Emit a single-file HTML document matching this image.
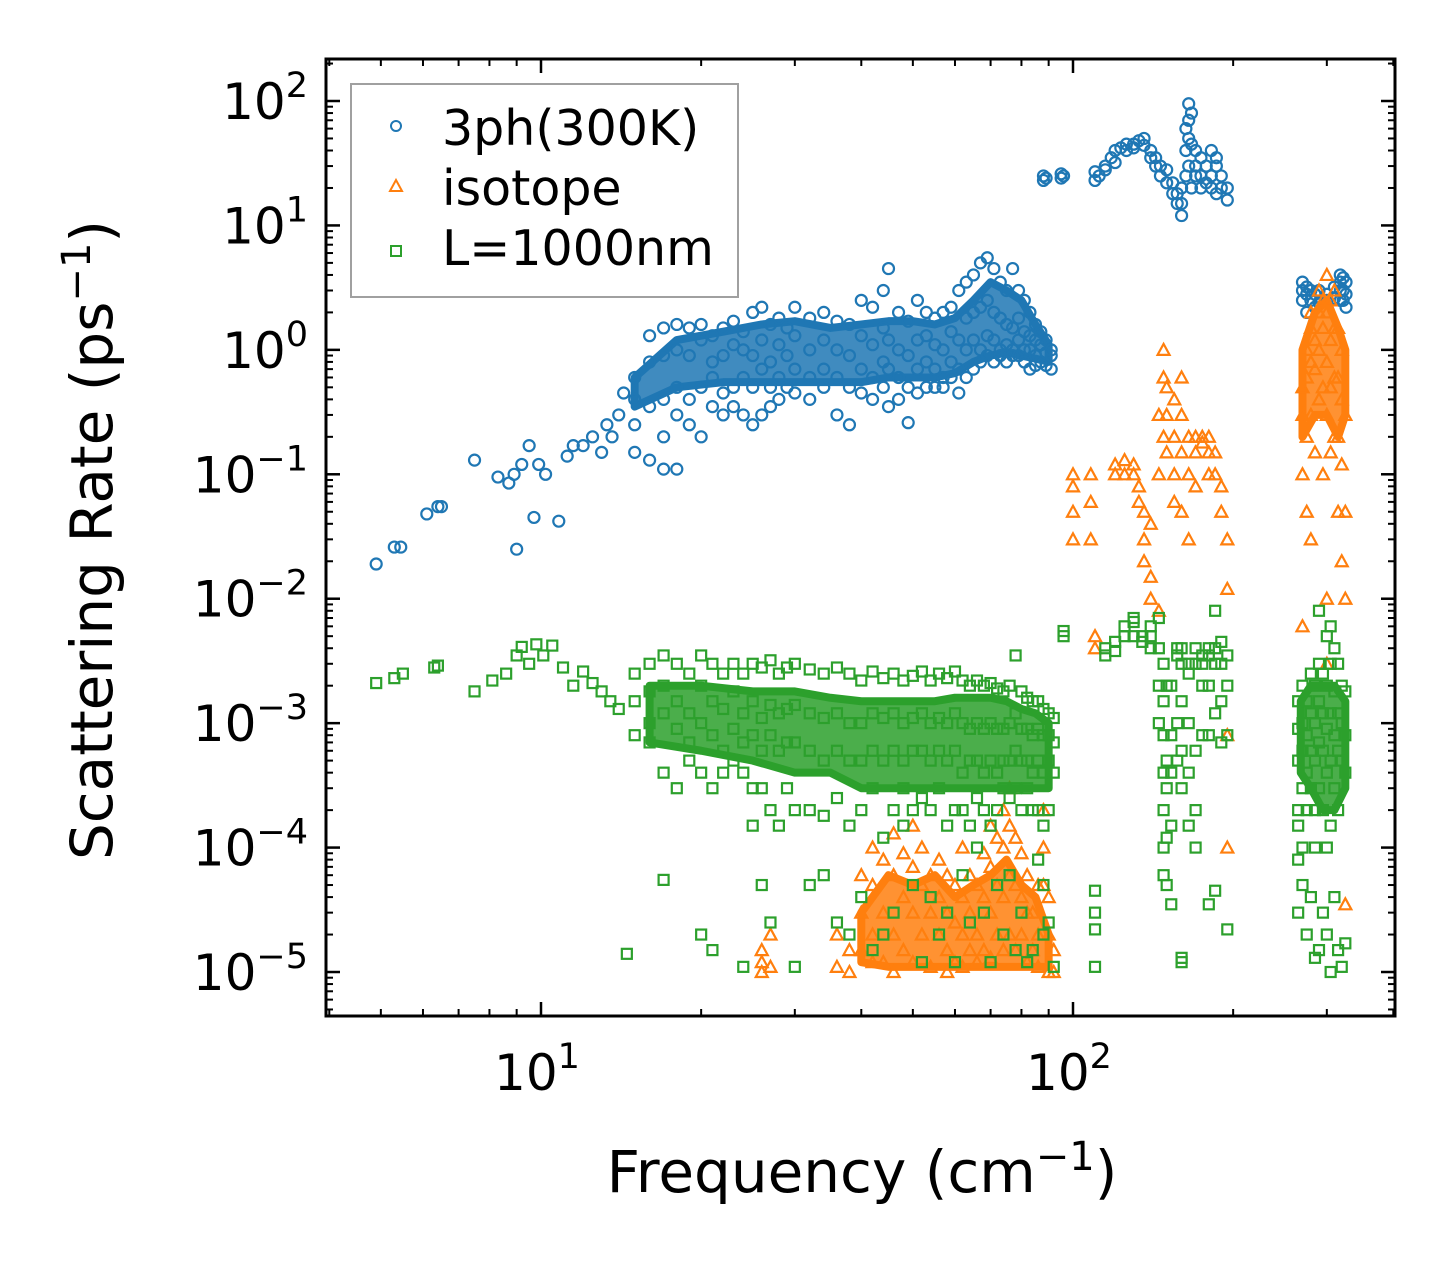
<!DOCTYPE html>
<html><head><meta charset="utf-8"><style>
html,body{margin:0;padding:0;background:#fff;}
svg{display:block;font-family:"DejaVu Sans","Liberation Sans",sans-serif;}
</style></head><body>
<svg id="chart" width="1455" height="1265" viewBox="0 0 1455 1265" xmlns="http://www.w3.org/2000/svg">
<rect x="0" y="0" width="1455" height="1265" fill="#fff"/>
<g id="marks"></g>
<g id="axes"></g>
<g id="legend">
 <rect x="351" y="84" width="387" height="213" fill="#fff" stroke="#a0a0a0" stroke-width="2"/>
 <circle cx="396" cy="126" r="5" fill="none" stroke="#1f77b4" stroke-width="2"/>
 <text x="442" y="145" font-size="49">3ph(300K)</text>
 <path d="M396,180 L402,191 L390,191 Z" fill="none" stroke="#ff7f0e" stroke-width="2"/>
 <text x="442" y="205" font-size="49">isotope</text>
 <rect x="391" y="246" width="10" height="10" fill="none" stroke="#2ca02c" stroke-width="2"/>
 <text x="442" y="265" font-size="49">L=1000nm</text>
</g>
<text x="862" y="1192" font-size="58" text-anchor="middle">Frequency (cm<tspan font-size="40" dy="-22">−1</tspan><tspan dy="22">)</tspan></text>
<text transform="translate(112,540) rotate(-90)" font-size="58" text-anchor="middle">Scattering Rate (ps<tspan font-size="40" dy="-22">−1</tspan><tspan dy="22">)</tspan></text>
</svg>
<script>
const blueFreq = [4.9,5.3,5.45,6.1,6.4,6.5,7.5,8.3,8.7,8.9,9.0,9.2,9.5,9.7,9.9,10.2,10.8,11.2,11.5,12,12.5,13,13.3,13.6,14,14.3,
15,16,17,18,19,20,21,22,23,24,25,26,27,28,29,30,32,34,36,38,40,42,44,45,47,49,51,53,55,57,59,61,63,65,67,69,71,73,75,77,79,81,83,85,87,89,91,
88,89,95,96,110,112,115,118,120,123,126,130,133,136,140,143,146,150,154,157,160,163,165,167,170,174,178,182,186,190,195,
270,275,280,285,290,300,310,318,322,326];
const blueRates = [[0.019],[0.026],[0.026],[0.048],[0.055],[0.055],[0.13],[0.095],[0.085],[0.10],[0.025],[0.12],[0.17],[0.045],[0.12],[0.10],[0.042],[0.14],[0.17],[0.17],[0.2],[0.15],[0.25],[0.2],[0.3],[0.45],
[0.25,0.4,0.6,0.15],[0.35,0.8,1.3,0.13],[0.4,0.9,1.5,0.2,0.11],[0.5,1.0,1.6,0.3,0.11],[0.4,0.9,1.5,0.25],[0.5,1.2,1.6,0.2],[0.35,0.8,1.3,0.6],[0.45,0.9,1.5,0.3],[0.5,1.1,1.7,0.35],[0.6,1.0,1.4,0.3],[0.5,0.9,2.0,0.25],[0.7,1.2,2.2,0.3],[0.5,0.8,1.6,0.35],[0.6,1.1,1.8,0.4],[0.5,0.9,1.5],[0.7,1.3,2.2,0.45],[0.6,1.0,1.8,0.4],[0.7,1.2,2.0,0.5],[0.6,1.0,1.7,0.3],[0.5,0.9,1.6,0.25],[0.7,1.3,2.5,0.45],[0.6,1.1,2.2,0.4],[0.8,1.5,3.0,0.5],[0.7,1.2,4.5,0.35],[0.6,1.0,2.0,0.4],[0.5,0.9,1.7,0.26],[0.7,1.2,2.5,0.45],[0.8,1.3,2.0,0.5],[0.7,1.1,1.8,0.5],[0.6,1.0,2.0,0.5],[0.8,1.4,2.2,0.6],[0.7,1.2,3.0,0.45],[1.0,1.8,3.5,0.6],[1.2,2.0,4.0,0.7],[1.0,2.2,5.0,0.8],[1.3,2.5,5.5,0.9],[1.2,2.0,4.5,0.8],[1.0,1.8,3.5,0.9],[1.1,1.6,3.0,0.8],[1.0,1.5,4.5,0.9],[1.2,1.8,3.0,0.9],[1.0,1.4,2.5,0.8],[1.0,1.3,2.0,0.7],[0.9,1.2,1.6,0.75],[0.8,1.1,1.4],[0.75,0.95,1.2],[0.7,0.9,1.0],
[25,23],[24],[26,24],[25],[23,27],[25],[30,28],[35],[40,32],[42],[45,40],[45,42],[48],[50,44],[40,35],[35,30],[30,25],[28,22],[22,18],[18,15],[15,12,20],[60,40,25],[70,95,50,30],[80,45,20],[40,30,25],[35,25,20],[30,22],[40,25,20],[30,35,18],[25,20],[20,16],
[3.5,3,2.5],[3.2,2.8,2],[3,2.5],[2.8,2.2],[3,2.4],[2.8,2.5],[3.2,2.6],[4,3.5,3,2.5],[3.8,3,2.5],[3.5,2.8,2.2]];
// dense-core envelopes (where markers overlap into solid areas)
const blueBandFreq = [15,18,22,26,30,35,40,45,50,55,60,65,70,75,80,85,90];
const blueBandLow  = [0.35,0.5,0.55,0.55,0.55,0.55,0.55,0.6,0.6,0.6,0.65,0.8,0.9,0.95,0.9,0.85,0.8];
const blueBandHigh = [0.6,1.2,1.4,1.6,1.7,1.5,1.6,1.7,1.7,1.6,1.8,2.5,3.5,3.0,2.5,1.6,1.1];

const isoFreq = [26,27,36,38,40,42,44,46,48,50,52,54,56,58,60,62,64,66,68,70,72,74,76,78,80,82,84,86,88,90,92,
100,108,110,120,125,130,133,136,140,145,148,150,155,160,165,170,175,180,185,190,195,
270,275,280,285,290,295,300,305,310,315,320,325];
const isoRates = [[1.2e-5,1.5e-5,1e-5],[1.1e-5,2e-5],[1.1e-5,2e-5],[1e-5,1.5e-5],[1.5e-5,3e-5,6e-5],[2e-5,5e-5,1e-4,1.2e-5],[1.2e-5,3e-5,8e-5],[2e-5,6e-5,1.3e-4,1e-5],[1.5e-5,4e-5,9e-5],[1.2e-5,3e-5,7e-5,1.5e-4],[2e-5,5e-5,1e-4],[1.1e-5,3e-5,6e-5],[2e-5,4e-5,8e-5],[1.5e-5,3e-5,6e-5,1e-5],[1.2e-5,2.5e-5,5e-5],[2e-5,4e-5,1e-4,1.1e-5],[1.5e-5,3e-5,6e-5],[1.2e-5,2e-5,5e-5],[1.5e-5,4e-5,9e-5],[1.3e-5,3e-5,7e-5,1.5e-4],[2e-5,5e-5,1.2e-4],[1.5e-5,4e-5,1e-4,2e-4],[2e-5,6e-5,1.5e-4,3e-4],[1.5e-5,5e-5,1.2e-4],[2e-5,4e-5,9e-5],[1.2e-5,3e-5,6e-5],[1.5e-5,3e-5],[1.1e-5,2e-5,5e-5],[5e-5,1e-4,2e-4],[1e-5,2e-5,4e-5],[1e-5,1.5e-5],
[0.03,0.05,0.08,0.1],[0.03,0.06,0.1],[0.004,0.005],[0.12,0.1],[0.13,0.1],[0.12,0.1],[0.08,0.06],[0.05,0.03,0.02],[0.04,0.015,0.01],[0.008,0.1,0.3],[0.6,1.0,0.2],[0.5,0.3,0.15],[0.2,0.1,0.06,0.4],[0.3,0.6,0.15,0.05],[0.2,0.1,0.03],[0.15,0.2,0.08],[0.18,0.2],[0.2,0.15,0.1],[0.15,0.1],[0.08,0.05],[0.03,0.012,0.0008,0.0001],
[0.3,0.5,0.1,0.006],[1,0.6,0.2,0.05],[2,1.5,0.8,0.3,0.03],[1.2,0.7,0.15],[3,2,1,0.4],[2.5,1.5,0.5,0.1],[4,2,0.8,0.3,0.01,0.003],[2.5,1.2,0.5,0.15],[3,1.5,0.6,0.2],[1.5,0.6,0.2,0.05],[1,0.4,0.12,0.02],[0.3,0.05,0.01,3.5e-5]];
const isoBandFreq = [40,45,50,55,60,65,70,75,80,85,90];
const isoBandLow  = [1.2e-5,1.1e-5,1.1e-5,1.1e-5,1.1e-5,1.1e-5,1.1e-5,1.1e-5,1.1e-5,1.1e-5,1.1e-5];
const isoBandHigh = [3e-5,6e-5,5e-5,6e-5,4e-5,5e-5,6e-5,8e-5,5e-5,4e-5,2e-5];
const isoBand2Freq = [270,285,300,315,325];
const isoBand2Low  = [0.2,0.3,0.3,0.2,0.3];
const isoBand2High = [1,2,2.5,1.5,1];

const bndFreq = [4.9,5.3,5.5,6.3,6.4,7.5,8.1,8.6,9.0,9.2,9.5,9.8,10.1,10.5,11,11.5,12,12.5,13,13.5,14,14.5,
15,16,17,18,19,20,21,22,23,24,25,26,27,28,29,30,32,34,36,38,40,42,44,46,48,50,52,54,56,58,60,62,64,66,68,70,72,74,76,78,80,82,84,86,88,90,92,
96,110,115,120,125,130,135,140,145,148,150,153,157,160,165,170,175,180,185,190,195,
265,270,275,280,285,290,295,300,305,310,315,320,325];
const bndRates = [[0.0021],[0.0023],[0.0025],[0.0028],[0.0029],[0.0018],[0.0022],[0.0025],[0.0035],[0.0041],[0.003],[0.0043],[0.0035],[0.0042],[0.0028],[0.002],[0.0026],[0.0021],[0.0018],[0.0015],[0.0013],[1.4e-5],
[0.0025,0.0015,0.0008],[0.003,0.0018,0.001,0.0007],[0.0035,0.002,0.0012,0.0004,5.5e-5],[0.003,0.0015,0.0009,0.0003],[0.0025,0.0012,0.0007,0.0005],[0.0035,0.002,0.001,0.0004,2e-5],[0.003,0.0015,0.0008,0.0003,1.5e-5],[0.0025,0.0013,0.0006,0.0004],[0.003,0.0018,0.0009,0.0005],[0.0025,0.0012,0.0007,0.0004,1.1e-5],[0.003,0.0015,0.0008,0.0003,1.5e-4],[0.0028,0.0011,0.0006,0.0003,5e-5],[0.0032,0.0014,0.0008,0.0002,2.5e-5],[0.0025,0.0012,0.0006,0.00015],[0.0028,0.0013,0.0007,0.0003],[0.003,0.0014,0.0007,0.0002,1.1e-5],[0.0027,0.0012,0.0006,0.0002,5e-5],[0.0025,0.0011,0.0005,0.00018,6e-5],[0.0028,0.0012,0.0006,0.00025,2.5e-5],[0.0025,0.001,0.0005,0.00015,2e-5],[0.0022,0.001,0.0005,0.0002,4e-5],[0.0026,0.0012,0.0006,0.0003,1.5e-5],[0.0023,0.0011,0.0005,0.00012,2e-5],[0.0025,0.0012,0.0006,0.0002,3e-5],[0.0022,0.001,0.0005,0.0003,1.5e-4],[0.0024,0.0011,0.0006,0.0002,5e-5],[0.0026,0.0012,0.0006,0.00025,1.2e-5],[0.0022,0.001,0.0005,0.0002,4e-5],[0.0025,0.0011,0.0006,0.0003,2e-5],[0.0023,0.001,0.0005,0.00015,3e-5],[0.0026,0.0012,0.0006,0.0002,1.2e-5],[0.0022,0.001,0.0004,0.0002,6e-5],[0.002,0.0009,0.0005,0.00015,2.5e-5],[0.0022,0.001,0.0005,0.00025,1e-4],[0.002,0.0009,0.0004,0.0002,3e-5],[0.0021,0.001,0.0005,0.00015,1.2e-5],[0.0019,0.0009,0.0004,0.0002,5e-5],[0.0018,0.0009,0.0005,0.0003,2e-5],[0.002,0.001,0.0005,0.00025,6e-5],[0.0035,0.0012,0.0006,0.0003,1.5e-5],[0.0018,0.0009,0.0005,0.0002,3e-5],[0.0016,0.0009,0.0005,0.0003,1.2e-5],[0.0015,0.0008,0.0004,0.0002,1.5e-5],[0.0015,0.0009,0.0005,0.0002,8e-5],[0.0013,0.0008,0.0004,0.00015,5e-5,2e-5],[0.0012,0.0008,0.0005,0.0002,2.5e-5],[0.0011,0.0007,0.0004,1.1e-5],
[0.0055,0.005],[4.5e-5,3e-5,2.2e-5,1.1e-5],[0.0035,0.004],[0.0045,0.0038],[0.005,0.006],[0.0065,0.007,0.005],[0.0045,0.005],[0.006,0.005,0.004],[0.007,0.004,0.002,0.001],[0.003,0.0015,0.0008,0.0004,0.0002,1e-4,6e-5],[0.002,0.0005,0.0003,0.00012,5e-5],[0.002,0.0008,0.0004,0.00015,3.5e-5],[0.004,0.0035,0.001,0.0005],[0.004,0.003,0.0015,0.0006,0.0003,1.3e-5,1.2e-5],[0.003,0.0025,0.001,0.0004,0.00015],[0.004,0.003,0.0006,0.0002,1e-4],[0.0035,0.003,0.002,0.0008],[0.004,0.0035,0.002,0.0008,3.5e-5],[0.008,0.004,0.003,0.0012,4.5e-5],[0.0045,0.003,0.0015,0.0007],[0.0035,0.002,0.0008,2.2e-5],
[0.0015,0.0009,0.0005,0.0002,1.5e-4,8e-5,3e-5],[0.002,0.001,0.0006,0.0003,1e-4,5e-5],[0.0015,0.0008,0.0004,0.0002,2e-5],[0.0025,0.0012,0.0006,0.0003,4e-5],[0.002,0.001,0.0005,0.0002,1.3e-5,1e-4],[0.008,0.003,0.0015,0.0007,0.0003,1.5e-5],[0.0025,0.0012,0.0006,0.0002,3e-5],[0.005,0.002,0.0009,0.0004,0.0001,2e-5],[0.006,0.003,0.0012,0.0005,1.5e-4,1e-5],[0.004,0.0018,0.0008,0.0003,4e-5],[0.003,0.0012,0.0006,0.0002,1.5e-5],[0.002,0.001,0.0005,1.1e-5],[0.0018,0.0008,0.0004,1.7e-5]];
const bndBandFreq = [16,20,25,30,35,40,45,50,55,60,65,70,75,80,85,90];
const bndBandLow  = [0.0007,0.0006,0.0005,0.0004,0.0004,0.0003,0.0003,0.0003,0.0003,0.0003,0.0003,0.0003,0.0003,0.0003,0.0003,0.0003];
const bndBandHigh = [0.002,0.002,0.0018,0.0018,0.0016,0.0015,0.0015,0.0015,0.0015,0.0016,0.0016,0.0016,0.0015,0.0013,0.0012,0.001];
const bndBand2Freq = [268,280,295,310,325];
const bndBand2Low  = [0.0004,0.0003,0.0002,0.0002,0.0003];
const bndBand2High = [0.0015,0.002,0.002,0.002,0.0015];

const xTickExps = [1, 2];
const yTickExps = [2, 1, 0, -1, -2, -3, -4, -5];

const NS = "http://www.w3.org/2000/svg";
const L = 326, R = 1395, T = 59, B = 1016;
function xs(v){ return 541 + (Math.log10(v) - 1) * 532; }
function ys(v){ return 101 + (2 - Math.log10(v)) * 124.43; }
function mk(tag, attrs, parent){ const e = document.createElementNS(NS, tag); for (const k in attrs) e.setAttribute(k, attrs[k]); parent.appendChild(e); return e; }
function band(freq, low, high, color, parent){
  let pts = freq.map((f, i) => xs(f) + ',' + ys(high[i]));
  pts = pts.concat(freq.map((f, i) => xs(f) + ',' + ys(low[i])).reverse());
  return mk('polygon', {points: pts.join(' '), fill: color, 'fill-opacity': 0.85, stroke: color, 'stroke-width': 8, 'stroke-linejoin': 'round'}, parent);
}

const marks = document.getElementById('marks');
const gB = mk('g', {}, marks);


const bb = band(blueBandFreq, blueBandLow, blueBandHigh, '#1f77b4', gB);


blueFreq.forEach((f, i) => blueRates[i].forEach(r => {
  const c = mk('circle', {cx: xs(f), cy: ys(r), r: 5.5, fill: 'none', stroke: '#1f77b4', 'stroke-width': 2.2}, gB);
  
  
}));
const gI = mk('g', {}, marks);


const ib1 = band(isoBandFreq, isoBandLow, isoBandHigh, '#ff7f0e', gI);


const ib2 = band(isoBand2Freq, isoBand2Low, isoBand2High, '#ff7f0e', gI);


isoFreq.forEach((f, i) => isoRates[i].forEach(r => {
  const x = xs(f), y = ys(r);
  const p = mk('path', {d: `M${x},${y-6} L${x+6},${y+5} L${x-6},${y+5} Z`, fill: 'none', stroke: '#ff7f0e', 'stroke-width': 2.2}, gI);
  
  
}));
const gG = mk('g', {}, marks);


const gb1 = band(bndBandFreq, bndBandLow, bndBandHigh, '#2ca02c', gG);


const gb2 = band(bndBand2Freq, bndBand2Low, bndBand2High, '#2ca02c', gG);


bndFreq.forEach((f, i) => bndRates[i].forEach(r => {
  const s = mk('rect', {x: xs(f) - 5, y: ys(r) - 5, width: 10, height: 10, fill: 'none', stroke: '#2ca02c', 'stroke-width': 2.2}, gG);
  
  
}));

const axes = document.getElementById('axes');
const frame = mk('rect', {x: L, y: T, width: R - L, height: B - T, fill: 'none', stroke: '#000', 'stroke-width': 3}, axes);


for (let e = 0; e <= 2; e++) for (let m = 1; m <= 9; m++) {
  const v = m * Math.pow(10, e); const x = xs(v);
  if (x < L || x > R) continue;
  const len = m === 1 ? 14 : 7, w = m === 1 ? 2.5 : 2;
  const t1 = mk('line', {x1: x, x2: x, y1: B, y2: B - len, stroke: '#000', 'stroke-width': w}, axes);
  
  
  const t2 = mk('line', {x1: x, x2: x, y1: T, y2: T + len, stroke: '#000', 'stroke-width': w}, axes);
  
  
}
xTickExps.forEach(e => {
  const t = mk('text', {x: xs(Math.pow(10, e)) - 4, y: 1090, 'font-size': 50, 'text-anchor': 'middle'}, axes);
  
  
  t.innerHTML = `10<tspan font-size="35" dy="-22">${e}</tspan>`;
});
for (let e = -6; e <= 2; e++) for (let m = 1; m <= 9; m++) {
  const v = m * Math.pow(10, e); const y = ys(v);
  if (y < T || y > B) continue;
  const len = m === 1 ? 14 : 7, w = m === 1 ? 2.5 : 2;
  const t1 = mk('line', {x1: L, x2: L + len, y1: y, y2: y, stroke: '#000', 'stroke-width': w}, axes);
  
  
  const t2 = mk('line', {x1: R, x2: R - len, y1: y, y2: y, stroke: '#000', 'stroke-width': w}, axes);
  
  
}
yTickExps.forEach(e => {
  const t = mk('text', {x: 308, y: ys(Math.pow(10, e)) + 18, 'font-size': 50, 'text-anchor': 'end'}, axes);
  
  
  const lab = e < 0 ? '−' + (-e) : '' + e;
  t.innerHTML = `10<tspan font-size="35" dy="-22">${lab}</tspan>`;
});
</script>
</body></html>
